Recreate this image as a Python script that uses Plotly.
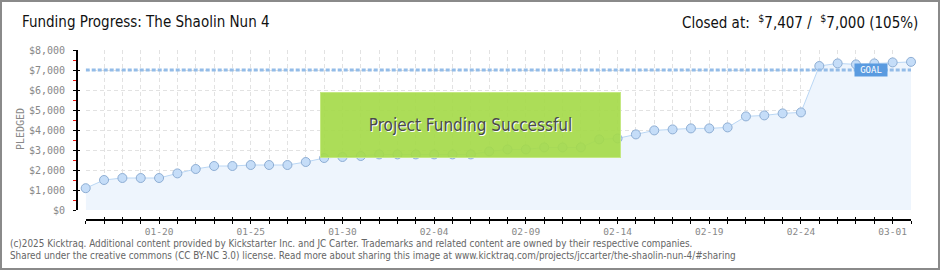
import math
import plotly.graph_objects as go

# ---------------- data ----------------
dates = [
    "2025-01-16", "2025-01-17", "2025-01-18", "2025-01-19", "2025-01-20", "2025-01-21",
    "2025-01-22", "2025-01-23", "2025-01-24", "2025-01-25", "2025-01-26", "2025-01-27",
    "2025-01-28", "2025-01-29", "2025-01-30", "2025-01-31", "2025-02-01", "2025-02-02",
    "2025-02-03", "2025-02-04", "2025-02-05", "2025-02-06", "2025-02-07", "2025-02-08",
    "2025-02-09", "2025-02-10", "2025-02-11", "2025-02-12", "2025-02-13", "2025-02-14",
    "2025-02-15", "2025-02-16", "2025-02-17", "2025-02-18", "2025-02-19", "2025-02-20",
    "2025-02-21", "2025-02-22", "2025-02-23", "2025-02-24", "2025-02-25", "2025-02-26",
    "2025-02-27", "2025-02-28", "2025-03-01", "2025-03-02",
]
pledged = [
    1090, 1500, 1600, 1600, 1600, 1830, 2050, 2200, 2200, 2250, 2250, 2250,
    2400, 2600, 2650, 2700, 2780, 2780, 2780, 2780, 2780, 2780, 2930, 3030,
    3030, 3130, 3130, 3130, 3530, 3580, 3780, 3980, 4030, 4080, 4080, 4130,
    4680, 4730, 4830, 4880, 7200, 7330, 7280, 7330, 7380, 7407,
]
goal = 7000
closed_total = 7407
project_name = "The Shaolin Nun 4"
label_tick0 = "2025-01-20"
footer_lines = [
    "(c)2025 Kicktraq. Additional content provided by Kickstarter Inc. and JC Carter. "
    "Trademarks and related content are owned by their respective companies.",
    "Shared under the creative commons (CC BY-NC 3.0) license. Read more about sharing this "
    "image at www.kicktraq.com/projects/jccarter/the-shaolin-nun-4/#sharing",
]

# ---------------- layout helpers ----------------
WIDTH, HEIGHT = 940, 270
L, R, T, B = 77, 911, 50, 220
PW, PH = R - L, B - T


def px(x):
    return (x - L) / PW


def py(y):
    return (B - y) / PH


DAY = 86400000
xdom = [px(85.7), 1.0]
ydom = [py(210), 1.0]

COND = "DejaVu Sans Condensed, Liberation Sans Narrow, DejaVu Sans, sans-serif"
MONO = "DejaVu Sans Mono, monospace"
GRID = "#e2e2e2"

fig = go.Figure()

fig.add_trace(go.Scatter(
    x=dates, y=pledged, mode="lines+markers",
    fill="tozeroy", fillcolor="#eef5fd",
    line=dict(color="#b9d6f4", width=1),
    marker=dict(size=9, color="#c5ddf8", line=dict(color="#8eaed4", width=1)),
    cliponaxis=False, hoverinfo="skip", showlegend=False,
))

# goal line
fig.add_trace(go.Scatter(
    x=[dates[0], dates[-1]], y=[goal, goal], mode="lines",
    line=dict(color="#93bce8", width=3, dash="4px,2px"),
    hoverinfo="skip", showlegend=False,
))

# helper traces that activate the overlay axes (inner halves of the crossing ticks)
fig.add_trace(go.Scatter(x=[dates[0]], y=[None], xaxis="x2", yaxis="y",
                         showlegend=False, hoverinfo="skip"))
fig.add_trace(go.Scatter(x=[dates[0]], y=[None], xaxis="x", yaxis="y2",
                         showlegend=False, hoverinfo="skip"))

xr = [dates[0], dates[-1]]
fig.update_layout(
    width=WIDTH, height=HEIGHT,
    margin=dict(l=L, r=WIDTH - R, t=T, b=HEIGHT - B),
    paper_bgcolor="white", plot_bgcolor="white",
    xaxis=dict(
        domain=xdom, anchor="free", position=0, range=xr, type="date",
        tick0=label_tick0, dtick=5 * DAY, tickformat="%m-%d",
        showline=True, linecolor="black", linewidth=2,
        ticks="outside", ticklen=3, tickcolor="black", tickwidth=1,
        tickfont=dict(family=MONO, size=9.5, color="#888888"),
        ticklabelstandoff=0,
        showgrid=True, gridcolor=GRID, griddash="4px,3px", gridwidth=1,
        minor=dict(tick0=dates[0], dtick=DAY, ticks="outside", ticklen=3,
                   tickcolor="black", showgrid=True, gridcolor=GRID,
                   griddash="4px,3px"),
        zeroline=False, fixedrange=True,
    ),
    xaxis2=dict(
        domain=xdom, anchor="free", position=0, overlaying="x", matches="x",
        type="date", tick0=label_tick0, dtick=5 * DAY,
        showline=False, ticks="inside", ticklen=3, tickcolor="black",
        showticklabels=False, showgrid=False, zeroline=False,
        minor=dict(tick0=dates[0], dtick=DAY, ticks="inside", ticklen=3,
                   tickcolor="black", showgrid=False),
    ),
    yaxis=dict(
        domain=ydom, anchor="free", position=0, range=[0, 8000],
        dtick=1000, tickprefix="$", tickformat=",",
        showline=True, linecolor="black", linewidth=2,
        ticks="outside", ticklen=3, tickcolor="black",
        tickfont=dict(family=MONO, size=10, color="#888888"),
        ticklabelstandoff=6,
        showgrid=True, gridcolor=GRID, griddash="4px,3px", gridwidth=1,
        minor=dict(dtick=500, ticks="outside", ticklen=3, tickcolor="#ee1111",
                   showgrid=False),
        zeroline=False, fixedrange=True,
    ),
    yaxis2=dict(
        domain=ydom, anchor="free", position=0, overlaying="y", matches="y",
        dtick=1000, showline=False, ticks="inside", ticklen=2,
        tickcolor="black", showticklabels=False, showgrid=False, zeroline=False,
    ),
)

pct = math.floor(closed_total / goal * 100)
annotations = [
    dict(text=f"Funding Progress: {project_name}", x=px(20), y=py(22),
         xref="paper", yref="paper", xanchor="left", yanchor="middle",
         showarrow=False, font=dict(family=COND, size=15, color="#111111")),
    dict(text=f"Closed at:  <sup>$</sup>{closed_total:,} /  <sup>$</sup>{goal:,} ({pct}%)",
         x=px(920), y=py(22), xref="paper", yref="paper",
         xanchor="right", yanchor="middle", showarrow=False,
         font=dict(family=COND, size=15, color="#111111")),
    dict(text="PLEDGED", x=px(20), y=py(129), xref="paper", yref="paper",
         textangle=-90, showarrow=False, xanchor="center", yanchor="middle",
         font=dict(family=MONO, size=10, color="#888888")),
    dict(text="Project Funding Successful", x=px(470.5), y=py(125),
         xref="paper", yref="paper", showarrow=False,
         width=299, height=64, bgcolor="rgba(165,218,74,0.92)",
         bordercolor="rgba(196,232,130,1)", borderwidth=1, borderpad=0,
         font=dict(family=COND, size=17, color="#4a4a4a",
                   shadow="1px 1px 0px #ffffff")),
    dict(text="GOAL", x=px(888), y=goal, xref="paper", yref="y",
         showarrow=False, width=32, height=12, bgcolor="#5a9be0",
         borderpad=0, font=dict(family=MONO, size=9, color="white")),
    dict(text=footer_lines[0], x=px(8), y=py(243), xref="paper", yref="paper",
         xanchor="left", yanchor="middle", showarrow=False,
         font=dict(family=COND, size=9.85, color="#666666")),
    dict(text=footer_lines[1], x=px(8), y=py(255), xref="paper", yref="paper",
         xanchor="left", yanchor="middle", showarrow=False,
         font=dict(family=COND, size=9.85, color="#666666")),
]
fig.update_layout(annotations=annotations)

# outer border
fig.add_shape(type="rect", xref="paper", yref="paper",
              x0=px(1), x1=px(939), y0=py(269), y1=py(1),
              line=dict(color="#8a8a8a", width=2), fillcolor="rgba(0,0,0,0)",
              layer="above")

fig.write_html("out.html")
